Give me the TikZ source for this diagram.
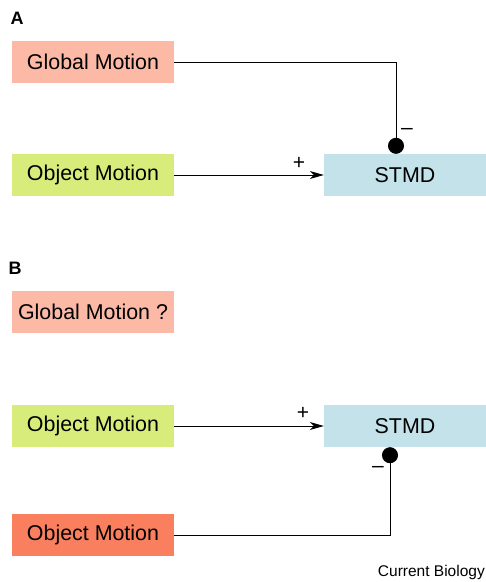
\documentclass[tikz,border=0pt]{standalone}
\usepackage{fontspec}
\setmainfont{Liberation Sans}
\usetikzlibrary{arrows.meta}
\definecolor{globalc}{HTML}{FBB9A6}
\definecolor{objc}{HTML}{D7EC7B}
\definecolor{objred}{HTML}{F97F5F}
\definecolor{stmdc}{HTML}{C3E2EA}
\begin{document}
\begin{tikzpicture}[x=1pt,y=-1pt,
  unitbox/.style={fill=#1,draw=none,minimum width=162pt,minimum height=42pt,inner sep=0pt,
    font=\fontsize{21.4}{25}\selectfont},
  wire/.style={line width=0.9pt},
  excite/.style={wire,-{Stealth[length=14pt,width=8pt,inset=4pt]}},
  inhibit/.style={wire,-{Circle[length=16pt]}},
  sign/.style={font=\fontsize{21}{24}\selectfont,inner sep=0pt},
  panel/.style={font=\bfseries\fontsize{18}{21}\selectfont,inner sep=0pt}]
\useasboundingbox (0,0) rectangle (486,582);

% Panel A
\node[panel] (la) at (17,18) {A};
\node[unitbox=globalc] (ga) at (93,62) {Global Motion};
\node[unitbox=objc] (oa) at (93,175) {Object Motion};
\node[unitbox=stmdc] (sa) at (405,175) {STMD};
\coordinate (ca) at (396,62);
\draw[inhibit] (ga.east) -- (ca) -- (ca |- sa.north);
\draw[excite] (oa.east) -- (sa.west);
\node[sign] (pa) at (299,163) {+};
\node[sign] (ma) at (407,131) {\textendash};

% Panel B
\node[panel] (lb) at (15,268) {B};
\node[unitbox=globalc] (gb) at (93,312) {Global Motion ?};
\node[unitbox=objc] (ob) at (93,426) {Object Motion};
\node[unitbox=stmdc] (sb) at (405,426) {STMD};
\node[unitbox=objred] (rb) at (93,535) {Object Motion};
\coordinate (cb) at (390,535);
\draw[inhibit] (rb.east) -- (cb) -- (cb |- sb.south);
\draw[excite] (ob.east) -- (sb.west);
\node[sign] (pb) at (303,413) {+};
\node[sign] (mb) at (378,469) {\textendash};

\node[anchor=east,font=\fontsize{15.5}{18}\selectfont,inner sep=0pt] (cred) at (485,572) {Current Biology};
\end{tikzpicture}
\end{document}
